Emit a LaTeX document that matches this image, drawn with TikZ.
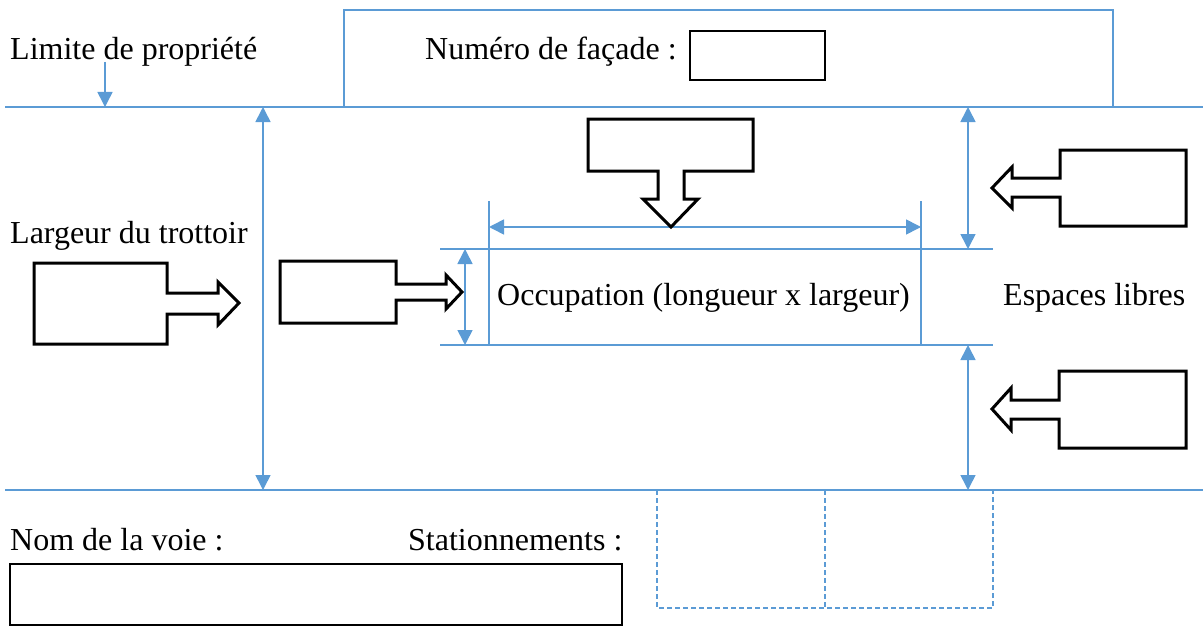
\documentclass[tikz,border=0pt]{standalone}
\usepackage{fontspec}
\setmainfont{Liberation Serif}
\usetikzlibrary{arrows.meta}
\definecolor{lineblue}{HTML}{5B9BD5}
\begin{document}
\begin{tikzpicture}[x=1pt,y=-1pt,
  bl/.style={draw=lineblue,line width=1.6pt},
  dim/.style={bl,{Triangle[length=15pt,width=15pt]}-{Triangle[length=15pt,width=15pt]}},
  onearrow/.style={bl,-{Triangle[length=15pt,width=15pt]}},
  callout/.style={draw=black,line width=3pt,fill=white,line join=miter},
  lbl/.style={anchor=base west,inner sep=0pt,font=\fontsize{32}{38}\selectfont},
  pbox/.style={draw=black,line width=2.5pt}]
\useasboundingbox (0,0) rectangle (1203,626);
% property line and facade
\coordinate (pl1) at (5,107); \coordinate (pl2) at (1203,107);
\draw[bl] (pl1) -- (pl2);
\draw[bl] (344,107) -- (344,10) -- (1113,10) -- (1113,107);
\node[lbl] (limite) at (10,60) {Limite de propriété};
\coordinate (la1) at (105,62); \coordinate (la2) at (105,107);
\draw[onearrow] (la1) -- (la2);
\node[lbl] (numero) at (425,60) {Numéro de façade :};
\draw[pbox] (690,31) rectangle (825,80);
% road line
\draw[bl] (5,490) -- (1203,490);
% sidewalk width
\coordinate (sw1) at (263,107); \coordinate (sw2) at (263,490);
\draw[dim] (sw1) -- (sw2);
\node[lbl] (largeur) at (10,243) {Largeur du trottoir};
% occupation
\draw[bl] (440,249) -- (993,249);
\draw[bl] (440,345) -- (993,345);
\draw[bl] (489,201) -- (489,345);
\draw[bl] (921,201) -- (921,345);
\coordinate (oc1) at (489,227); \coordinate (oc2) at (921,227);
\draw[dim] (oc1) -- (oc2);
\coordinate (ow1) at (465,249); \coordinate (ow2) at (465,345);
\draw[dim] (ow1) -- (ow2);
\node[lbl] (occ) at (497,305) {Occupation (longueur x largeur)};
% free spaces
\coordinate (fs1) at (968,107); \coordinate (fs2) at (968,249);
\draw[dim] (fs1) -- (fs2);
\coordinate (fs3) at (968,345); \coordinate (fs4) at (968,490);
\draw[dim] (fs3) -- (fs4);
\node[lbl] (esp) at (1003,305) {Espaces libres};
% callouts
\draw[callout] (34,263) -- (167,263) -- (167,293) -- (218,293) -- (218,282) -- (239,303) -- (218,325) -- (218,314) -- (167,314) -- (167,344) -- (34,344) -- cycle;
\draw[callout] (280,261) -- (396,261) -- (396,284) -- (446,284) -- (446,275) -- (462,292) -- (446,309) -- (446,300) -- (396,300) -- (396,323) -- (280,323) -- cycle;
\draw[callout] (588,119) -- (753,119) -- (753,171) -- (684,171) -- (684,199) -- (698,199) -- (671,227) -- (643,199) -- (658,199) -- (658,171) -- (588,171) -- cycle;
\draw[callout] (1186,150) -- (1060,150) -- (1060,178) -- (1012,178) -- (1012,167) -- (992,188) -- (1012,208) -- (1012,197) -- (1060,197) -- (1060,226) -- (1186,226) -- cycle;
\draw[callout] (1186,371) -- (1059,371) -- (1059,400) -- (1011,400) -- (1011,388) -- (992,409) -- (1011,430) -- (1011,419) -- (1059,419) -- (1059,448) -- (1186,448) -- cycle;
% bottom
\node[lbl] (voie) at (10,550) {Nom de la voie :};
\node[lbl] (stat) at (408,550) {Stationnements :};
\draw[pbox] (10,564) rectangle (622,625);
\draw[bl,line width=1.2pt,dash pattern=on 5pt off 3pt] (657,490) -- (657,608) -- (993,608) -- (993,490);
\draw[bl,line width=1.2pt,dash pattern=on 5pt off 3pt] (825,490) -- (825,608);
\end{tikzpicture}
\end{document}
